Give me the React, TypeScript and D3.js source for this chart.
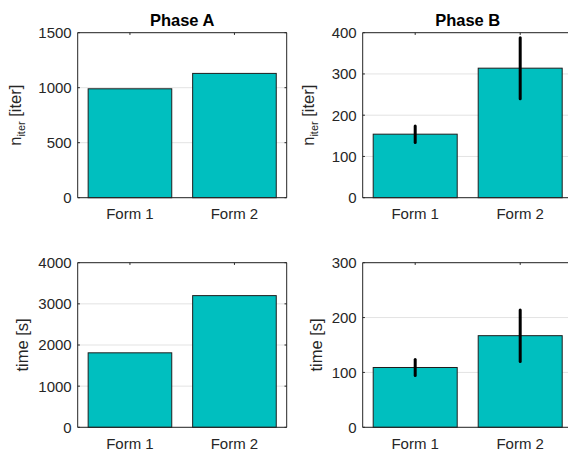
import React from "react";
import * as d3 from "d3";

const categories = ["Form 1", "Form 2"];
const phaseAIter = [990, 1130];
const phaseBIter = [154, 314];
const phaseBIterErr = [20, 74];
const phaseATime = [1810, 3200];
const phaseBTime = [109, 167];
const phaseBTimeErr = [14.5, 47];

const ticksAIter = [0, 500, 1000, 1500];
const ticksBIter = [0, 100, 200, 300, 400];
const ticksATime = [0, 1000, 2000, 3000, 4000];
const ticksBTime = [0, 100, 200, 300];

const FONT = "'Liberation Sans', Arial, Helvetica, sans-serif";
const AXIS = "#262626";
const FILL = "#00bfbf";

type PanelProps = {
  left: number;
  top: number;
  width: number;
  height: number;
  values: number[];
  errors?: number[];
  ticks: number[];
  title?: string;
  label: "iter" | "time";
  labelX: number;
};

function Panel({ left, top, width, height, values, errors, ticks, title, label, labelX }: PanelProps) {
  const x = d3.scaleLinear().domain([0.5, 2.5]).range([left, left + width]);
  const y = d3
    .scaleLinear()
    .domain([0, ticks[ticks.length - 1]])
    .range([top + height, top]);
  const bw = 0.8;
  const right = left + width;
  const bottom = top + height;
  const tl = 2.2;
  return (
    <g>
      {ticks.map((t) => (
        <line key={"g" + t} x1={left} x2={right} y1={y(t)} y2={y(t)} stroke="#e3e3e3" strokeWidth={1} />
      ))}
      {values.map((v, i) => (
        <rect
          key={"b" + i}
          x={x(i + 1 - bw / 2)}
          y={y(v)}
          width={x(i + 1 + bw / 2) - x(i + 1 - bw / 2)}
          height={y(0) - y(v)}
          fill={FILL}
          stroke="#1e1e1e"
          strokeWidth={1}
        />
      ))}
      {errors &&
        errors.map((e, i) => (
          <line
            key={"e" + i}
            x1={x(i + 1)}
            x2={x(i + 1)}
            y1={y(values[i] - e)}
            y2={y(values[i] + e)}
            stroke="#000"
            strokeWidth={3}
            strokeLinecap="round"
          />
        ))}
      {/* axes box */}
      <line x1={left} x2={left} y1={top} y2={bottom} stroke={AXIS} strokeWidth={1} />
      <line x1={left} x2={right} y1={bottom} y2={bottom} stroke={AXIS} strokeWidth={1} />
      <line x1={left} x2={right} y1={top} y2={top} stroke={AXIS} strokeWidth={1} />
      <line x1={right} x2={right} y1={top} y2={bottom} stroke={AXIS} strokeWidth={1} />
      {ticks.map((t) => (
        <g key={"t" + t}>
          <line x1={left} x2={left + tl} y1={y(t)} y2={y(t)} stroke={AXIS} />
          <line x1={right} x2={right - tl} y1={y(t)} y2={y(t)} stroke={AXIS} />
          <text
            x={left - 6}
            y={y(t)}
            dy="0.36em"
            textAnchor="end"
            fontFamily={FONT}
            fontSize={15}
            fill={AXIS}
          >
            {t}
          </text>
        </g>
      ))}
      {categories.map((c, i) => (
        <g key={"c" + i}>
          <line x1={x(i + 1)} x2={x(i + 1)} y1={top} y2={top + tl} stroke={AXIS} />
          <text
            x={x(i + 1)}
            y={bottom + 21.3}
            textAnchor="middle"
            fontFamily={FONT}
            fontSize={15}
            fill={AXIS}
          >
            {c}
          </text>
        </g>
      ))}
      {title && (
        <text
          x={(left + right) / 2}
          y={top - 6.3}
          textAnchor="middle"
          fontFamily={FONT}
          fontSize={16.5}
          fontWeight="bold"
          fill="#000"
        >
          {title}
        </text>
      )}
      <text
        transform={`translate(${labelX},${(top + bottom) / 2}) rotate(-90)`}
        textAnchor="middle"
        fontFamily={FONT}
        fontSize={16.5}
        fill={AXIS}
      >
        {label === "iter" ? (
          <>
            <tspan>n</tspan>
            <tspan fontSize={11} dy={4}>
              iter
            </tspan>
            <tspan dy={-4}> [iter]</tspan>
          </>
        ) : (
          "time [s]"
        )}
      </text>
    </g>
  );
}

export default function App() {
  return (
    <svg
      width={568}
      height={451}
      style={{ position: "absolute", left: 0, top: 0, background: "#fff" }}
    >
      <rect width={568} height={451} fill="#fff" />
      <Panel left={77.7} top={32.7} width={209} height={165} values={phaseAIter} ticks={ticksAIter} title="Phase A" label="iter" labelX={20.7} />
      <Panel left={362.7} top={32.7} width={210} height={165} values={phaseBIter} errors={phaseBIterErr} ticks={ticksBIter} title="Phase B" label="iter" labelX={314} />
      <Panel left={77.7} top={262.7} width={209} height={164.6} values={phaseATime} ticks={ticksATime} label="time" labelX={27.7} />
      <Panel left={362.7} top={262.7} width={210} height={164.6} values={phaseBTime} errors={phaseBTimeErr} ticks={ticksBTime} label="time" labelX={321.7} />
    </svg>
  );
}
